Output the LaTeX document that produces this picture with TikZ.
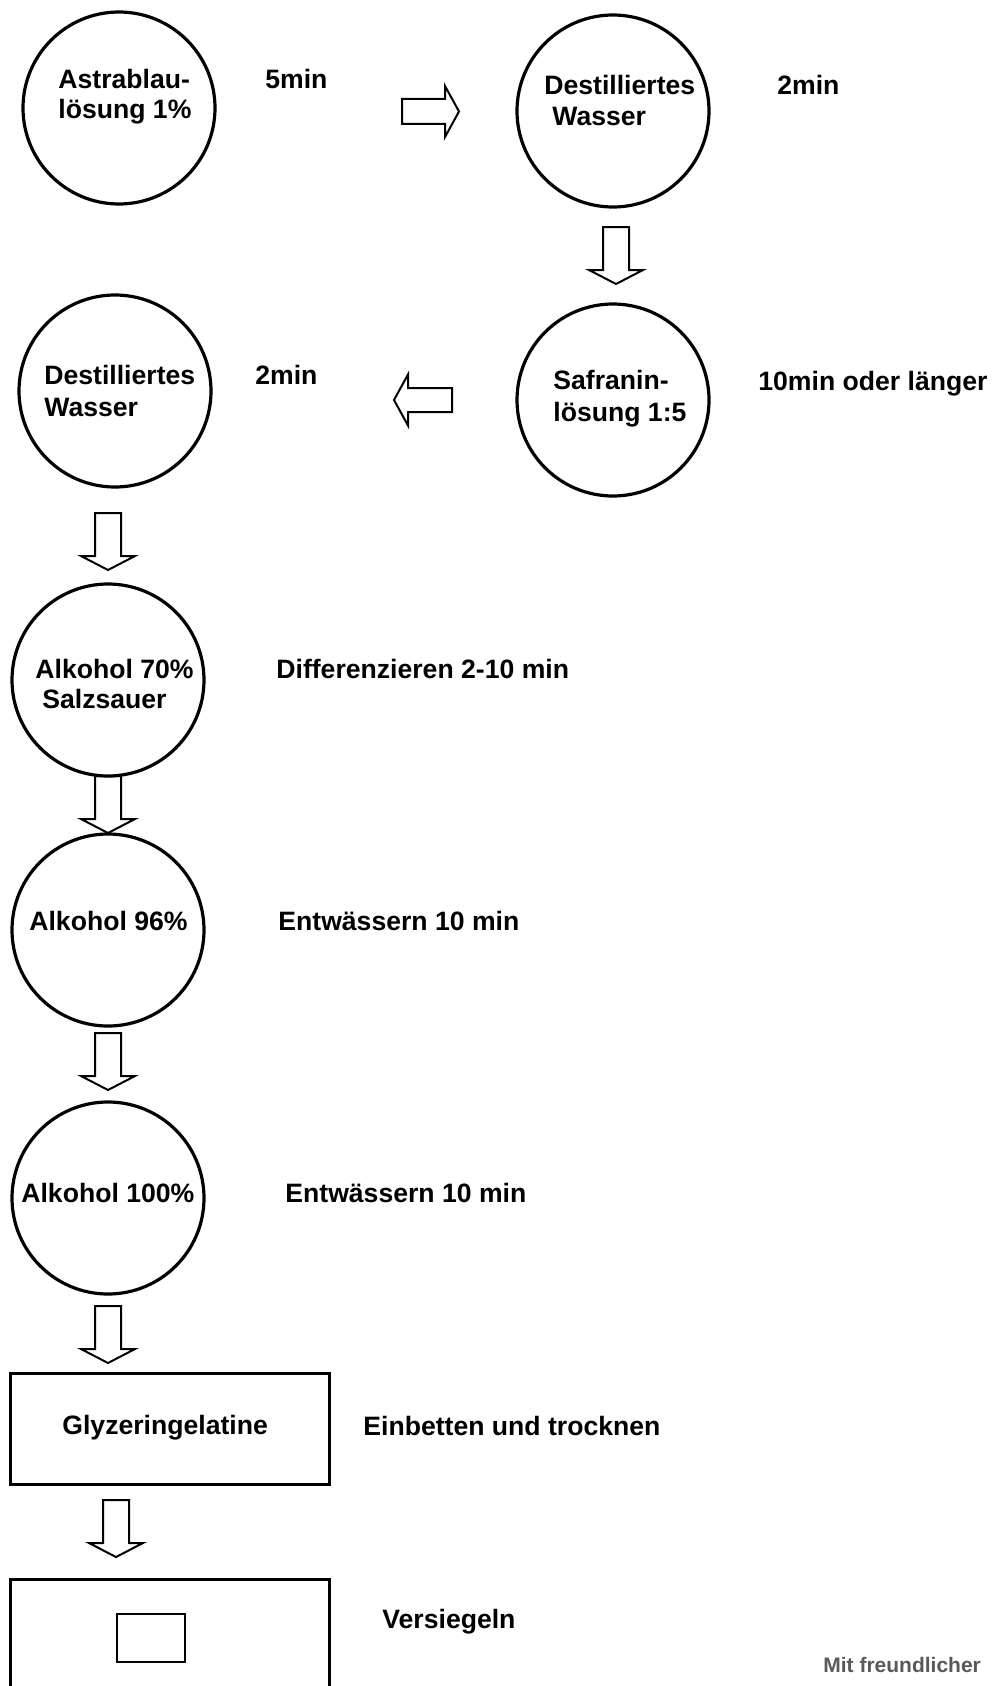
\documentclass[tikz,border=0pt]{standalone}
\usepackage{fontspec}
\setmainfont{Liberation Sans}
\begin{document}
\begin{tikzpicture}[x=0.5pt,y=-0.5pt,
  stage/.style={circle,draw,line width=1.6pt,minimum size=96pt,inner sep=0pt},
  box/.style={draw,line width=1.6pt},
  lbl/.style={anchor=base west,inner sep=0pt,font=\bfseries\fontsize{13.3}{15}\selectfont},
  arrowline/.style={draw,line width=1pt,line join=miter},
  darrow/.pic={\path[arrowline] (-13,0) -- (13,0) -- (13,43) -- (27,43) -- (0,57) -- (-27,43) -- (-13,43) -- cycle;},
  rarrow/.pic={\path[arrowline] (0,-12.5) -- (43,-12.5) -- (43,-25.5) -- (57,0) -- (43,25.5) -- (43,12.5) -- (0,12.5) -- cycle;},
  larrow/.pic={\path[arrowline] (0,-12) -- (-44,-12) -- (-44,-25.5) -- (-58,0) -- (-44,25.5) -- (-44,12) -- (0,12) -- cycle;}
]
\useasboundingbox (0,0) rectangle (991,1686);
\clip (0,0) rectangle (991,1686);

% circles
\node[stage] (c1) at (119,108) {};
\node[stage] (c2) at (613,111) {};
\node[stage] (c3) at (613,400) {};
\node[stage] (c4) at (115,391) {};
\node[stage] (c5) at (108,680) {};
\node[stage] (c6) at (108,930) {};
\node[stage] (c7) at (108,1198) {};

% boxes
\draw[box] (10.5,1373.5) rectangle (329.5,1484.5);
\draw[box] (10.5,1579.5) rectangle (329.5,1720);
\draw[line width=1.25pt] (117,1614) rectangle (185,1662);

% block arrows
\pic at (402,111.5) {rarrow};
\pic at (616,227) {darrow};
\pic at (452,400) {larrow};
\pic at (108,513) {darrow};
\pic at (108,776) {darrow};
\pic at (108,1033) {darrow};
\pic at (108,1306) {darrow};
\pic at (116,1500) {darrow};

% texts in shapes
\node[lbl] (t1a) at (58,89) {Astrablau-};
\node[lbl] (t1b) at (58,119) {lösung 1\%};
\node[lbl] (t2a) at (544,95) {Destilliertes};
\node[lbl] (t2b) at (552,126) {Wasser};
\node[lbl] (t3a) at (553,389) {Safranin-};
\node[lbl] (t3b) at (553,421) {lösung 1:5};
\node[lbl] (t4a) at (44,384) {Destilliertes};
\node[lbl] (t4b) at (44,416) {Wasser};
\node[lbl] (t5a) at (35,678) {Alkohol 70\%};
\node[lbl] (t5b) at (42,708) {Salzsauer};
\node[lbl] (t6) at (29,930) {Alkohol 96\%};
\node[lbl] (t7) at (21,1202) {Alkohol 100\%};
\node[lbl] (t8) at (62,1434) {Glyzeringelatine};

% side texts
\node[lbl] (s1) at (265,89) {5min};
\node[lbl] (s2) at (777,95) {2min};
\node[lbl] (s3) at (758,390) {10min oder länger};
\node[lbl] (s4) at (255,384) {2min};
\node[lbl] (s5) at (276,678) {Differenzieren 2-10 min};
\node[lbl] (s6) at (278,930) {Entwässern 10 min};
\node[lbl] (s7) at (285,1202) {Entwässern 10 min};
\node[lbl] (s8) at (363,1435) {Einbetten und trocknen};
\node[lbl] (s9) at (382,1628) {Versiegeln};

\node[anchor=base west,inner sep=0pt,text=black!65,font=\bfseries\fontsize{10.5}{12}\selectfont] (credit) at (823,1672) {Mit freundlicher};
\end{tikzpicture}
\end{document}
